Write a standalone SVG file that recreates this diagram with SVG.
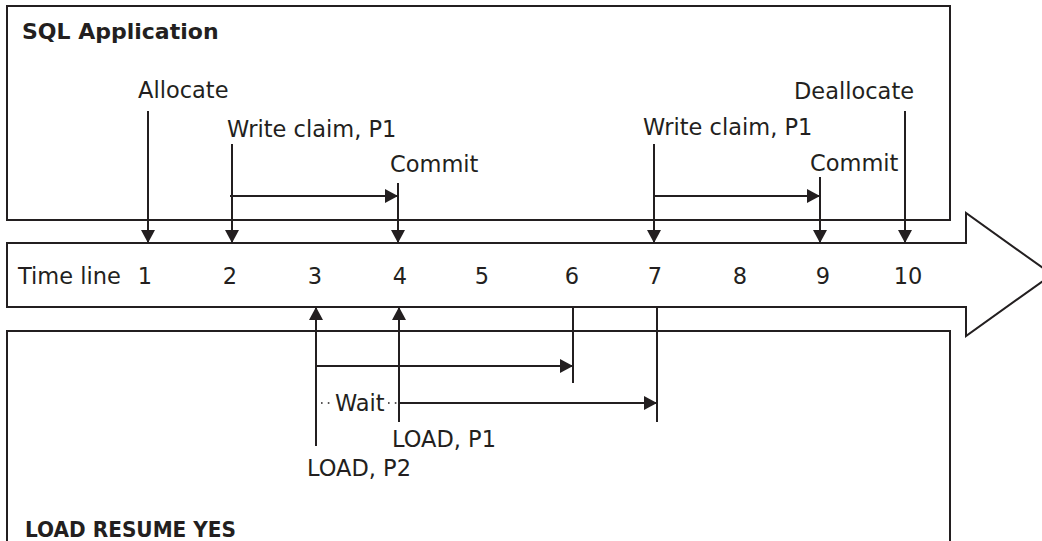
<svg xmlns="http://www.w3.org/2000/svg" width="1042" height="541" viewBox="0 0 1042 541">
  <style>
    .box { fill: #ffffff; stroke: #231f20; stroke-width: 2; }
    .ln { fill: none; stroke: #231f20; stroke-width: 2; }
    .arr { fill: none; stroke: #231f20; stroke-width: 2; marker-end: url(#ah); }
    .dot { fill: none; stroke: #231f20; stroke-width: 1.6; stroke-dasharray: 1.6 5.2; }
    .t { font-family: "DejaVu Sans", "Liberation Sans", sans-serif; font-size: 22.5px; fill: #231f20; }
    .title { font-family: "DejaVu Sans", "Liberation Sans", sans-serif; font-size: 22px; font-weight: bold; fill: #231f20; }
    .num { text-anchor: middle; }
  </style>
  <defs>
    <marker id="ah" viewBox="0 0 13 14" markerWidth="13" markerHeight="14" refX="13" refY="7" orient="auto" markerUnits="userSpaceOnUse">
      <path d="M0,0 L13,7 L0,14 z" fill="#231f20"/>
    </marker>
  </defs>
  <rect width="1042" height="541" fill="#ffffff"/>

  <g id="sql-application">
    <rect class="box" x="7" y="6" width="943" height="214"/>
    <text class="title" x="22" y="39">SQL Application</text>
  </g>

  <g id="load-resume-yes">
    <rect class="box" x="7" y="331" width="943" height="230"/>
    <text class="title" x="25" y="537" textLength="211" lengthAdjust="spacingAndGlyphs">LOAD RESUME YES</text>
  </g>

  <g id="time-line">
    <polygon class="box" points="7,243 966,243 966,213 1052,274.5 966,336 966,307 7,307"/>
    <text class="t" x="18" y="284">Time line</text>
    <text class="t num" x="145" y="284">1</text>
    <text class="t num" x="230" y="284">2</text>
    <text class="t num" x="315" y="284">3</text>
    <text class="t num" x="400" y="284">4</text>
    <text class="t num" x="482" y="284">5</text>
    <text class="t num" x="572" y="284">6</text>
    <text class="t num" x="655" y="284">7</text>
    <text class="t num" x="740" y="284">8</text>
    <text class="t num" x="823" y="284">9</text>
    <text class="t num" x="908" y="284">10</text>
  </g>

  <g id="connectors">
    <!-- SQL application events -->
    <line class="arr" x1="148" y1="111" x2="148" y2="243"/>
    <line class="arr" x1="232" y1="144" x2="232" y2="243"/>
    <line class="arr" x1="230" y1="196" x2="398" y2="196"/>
    <line class="arr" x1="398" y1="183" x2="398" y2="243"/>
    <line class="arr" x1="654" y1="144" x2="654" y2="243"/>
    <line class="arr" x1="653" y1="196" x2="820" y2="196"/>
    <line class="arr" x1="820" y1="177" x2="820" y2="243"/>
    <line class="arr" x1="905" y1="111" x2="905" y2="243"/>

    <!-- LOAD events -->
    <line class="arr" x1="316" y1="446" x2="316" y2="307"/>
    <line class="arr" x1="399" y1="422" x2="399" y2="307"/>
    <line class="arr" x1="316" y1="366" x2="573" y2="366"/>
    <line class="ln" x1="573" y1="307" x2="573" y2="383"/>
    <line class="arr" x1="399" y1="403" x2="657" y2="403"/>
    <line class="ln" x1="657" y1="307" x2="657" y2="422"/>
    <path class="dot" d="M321,403 H334 M388,403 H398"/>

    <text class="t" x="138" y="98">Allocate</text>
    <text class="t" x="227" y="137">Write claim, P1</text>
    <text class="t" x="390" y="172">Commit</text>
    <text class="t" x="643" y="135">Write claim, P1</text>
    <text class="t" x="810" y="171">Commit</text>
    <text class="t" x="794" y="99">Deallocate</text>
    <text class="t" x="335" y="411">Wait</text>
    <text class="t" x="392" y="447">LOAD, P1</text>
    <text class="t" x="307" y="476">LOAD, P2</text>
  </g>
</svg>
